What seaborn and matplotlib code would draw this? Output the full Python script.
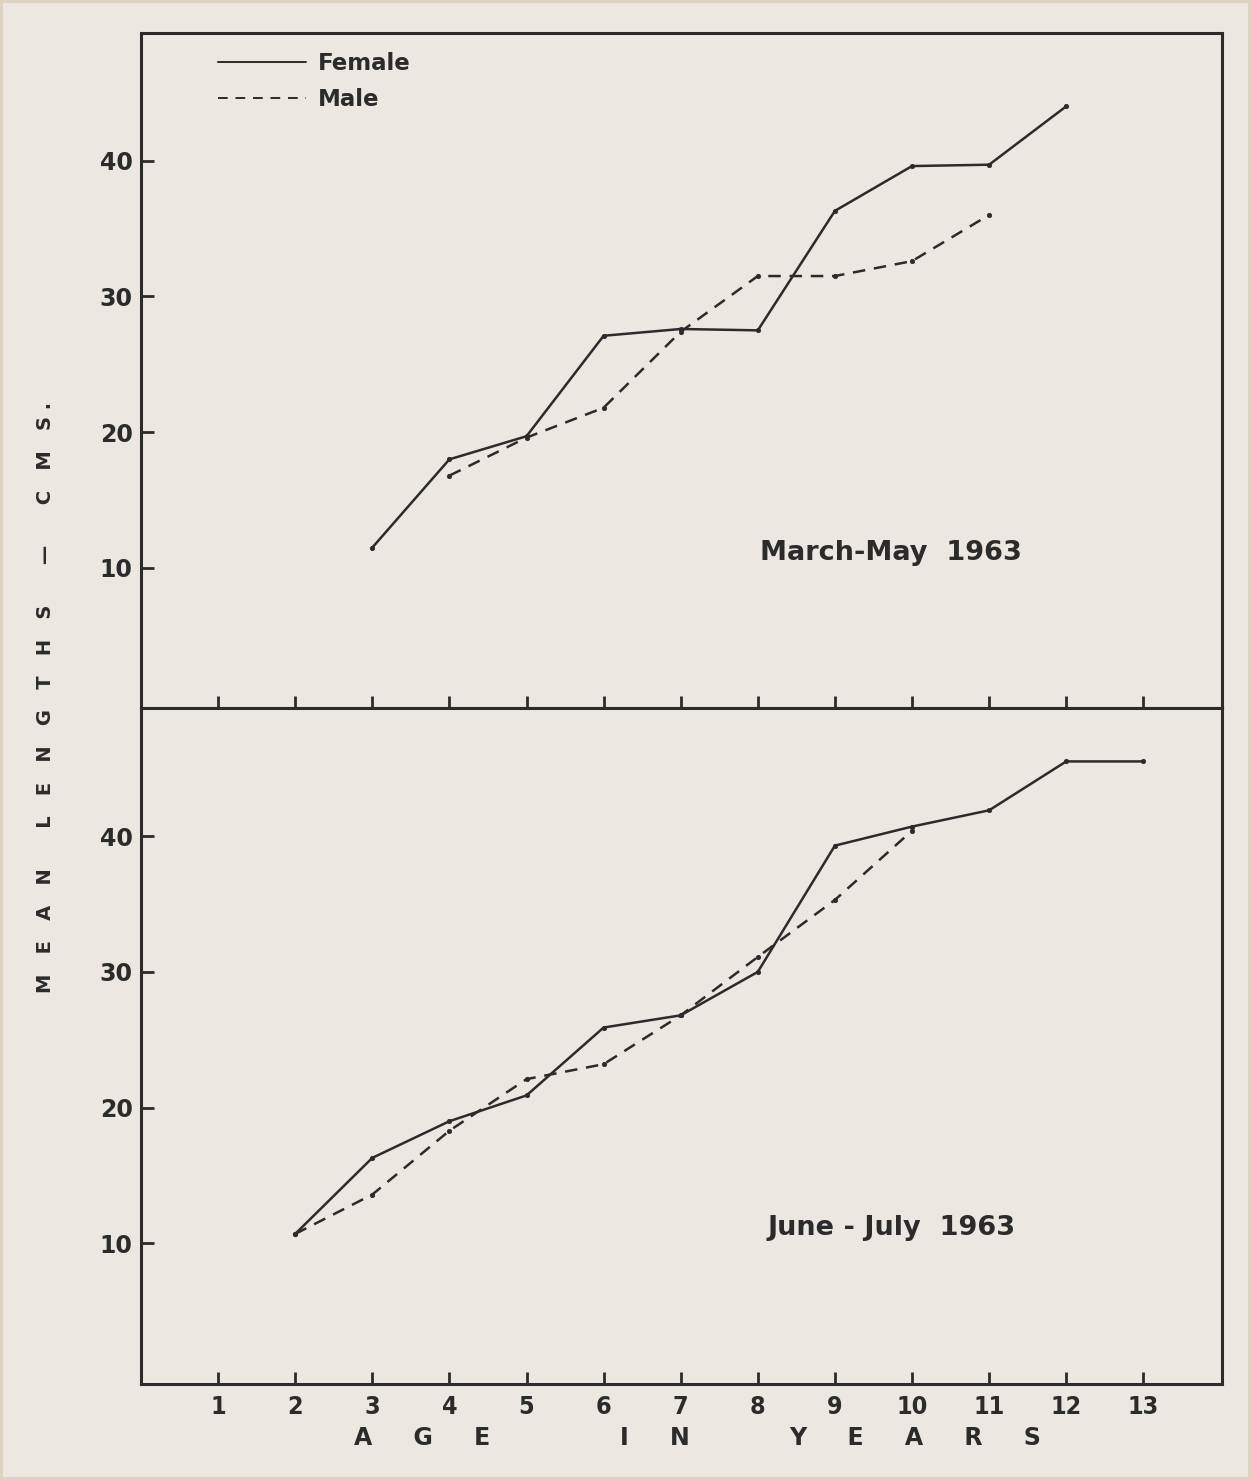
import numpy as np
import pandas as pd
import matplotlib
matplotlib.use("Agg")
import matplotlib.pyplot as plt
from matplotlib.lines import Line2D
import seaborn as sns

# Mean lengths (cm) by age group, two sampling periods
age_ticks = list(range(1, 14))

spring_female_age = [3, 4, 5, 6, 7, 8, 9, 10, 11, 12]
spring_female_len = [11.5, 18.0, 19.7, 27.1, 27.6, 27.5, 36.3, 39.6, 39.7, 44.0]
spring_male_age = [4, 5, 6, 7, 8, 9, 10, 11]
spring_male_len = [16.8, 19.6, 21.8, 27.4, 31.5, 31.5, 32.6, 36.0]

summer_female_age = [2, 3, 4, 5, 6, 7, 8, 9, 10, 11, 12, 13]
summer_female_len = [10.7, 16.3, 19.0, 20.9, 25.9, 26.8, 30.0, 39.3, 40.7, 41.9, 45.5, 45.5]
summer_male_age = [2, 3, 4, 5, 6, 7, 8, 9, 10]
summer_male_len = [10.7, 13.6, 18.3, 22.1, 23.2, 26.8, 31.1, 35.3, 40.4]

y_ticks = [10, 20, 30, 40]
panel_titles = ["March-May  1963", "June - July  1963"]
sex_labels = ["Female", "Male"]

INK = "#2b2b2b"
PAPER = "#ece7e0"


def long_frame(f_age, f_len, m_age, m_len):
    return pd.concat([
        pd.DataFrame({"age": f_age, "length": f_len, "sex": sex_labels[0]}),
        pd.DataFrame({"age": m_age, "length": m_len, "sex": sex_labels[1]}),
    ], ignore_index=True)


frames = [
    long_frame(spring_female_age, spring_female_len, spring_male_age, spring_male_len),
    long_frame(summer_female_age, summer_female_len, summer_male_age, summer_male_len),
]

sns.set_theme(style="white")
plt.rcParams["font.family"] = ["DejaVu Sans"]

fig = plt.figure(figsize=(12.51, 14.8), dpi=100, facecolor=PAPER)
fig.patch.set_edgecolor("#ddd3c0")
fig.patch.set_linewidth(3)
gs = fig.add_gridspec(2, 1, left=0.1127, right=0.9768, top=0.9777, bottom=0.0649, hspace=0)
axes = [fig.add_subplot(gs[0]), fig.add_subplot(gs[1])]

for i, (ax, df) in enumerate(zip(axes, frames)):
    ax.set_facecolor(PAPER)
    sns.lineplot(
        data=df, x="age", y="length", style="sex",
        dashes={"Female": "", "Male": (5, 3.5)},
        markers={"Female": "o", "Male": "o"},
        color=INK, linewidth=1.8, markersize=3.2,
        markeredgecolor=INK, markeredgewidth=0.5,
        legend=False, ax=ax, sort=False,
    )
    ax.set_xlim(0, 14.02)
    ax.set_ylim(-0.35, 49.4)
    ax.set_xticks(age_ticks)
    ax.set_yticks(y_ticks)
    ax.set_xlabel("")
    ax.set_ylabel("")
    for s in ax.spines.values():
        s.set_visible(True)
        s.set_color(INK)
        s.set_linewidth(2.2)
    ax.tick_params(axis="both", direction="in", length=9, width=2, color=INK,
                   bottom=True, left=True, top=False, right=False)
    ax.tick_params(axis="y", pad=6, labelsize=17, labelcolor=INK)
    for lab in ax.get_yticklabels():
        lab.set_fontweight("bold")
    ax.text(9.73, 11.1, panel_titles[i], ha="center", va="center",
            fontsize=19.5, fontweight="bold", color=INK)

axes[0].tick_params(axis="x", labelbottom=False)
axes[1].tick_params(axis="x", pad=8, labelsize=18, labelcolor=INK)
for lab in axes[1].get_xticklabels():
    lab.set_fontweight("bold")
    lab.set_fontstretch("condensed")

# Legend in the upper left of the first panel
handles = [
    Line2D([], [], color=INK, linewidth=1.4),
    Line2D([], [], color=INK, linewidth=1.4, dashes=(5, 4)),
]
leg = axes[0].legend(handles, sex_labels, loc="upper left",
                     bbox_to_anchor=(218 / 1251, 1 - 52 / 1480),
                     bbox_transform=fig.transFigure, frameon=False,
                     borderpad=0, borderaxespad=0, handlelength=3.85,
                     handletextpad=0.5, labelspacing=0.58,
                     prop={"size": 16.5, "weight": "bold"})
for t in leg.get_texts():
    t.set_color(INK)

# Axis titles with wide letter spacing
fig.text(0.036, 0.529, "M   E   A   N      L   E   N   G   T   H   S      \u2014      C   M   S .",
         rotation=90, ha="center", va="center", fontsize=14, fontweight="bold", color=INK)
for word, xc in [("A     G     E", 422), ("I     N", 655), ("Y     E     A     R     S", 915)]:
    fig.text(xc / 1251, 1 - 1438 / 1480, word, ha="center", va="center",
             fontsize=17, fontweight="bold", color=INK)

fig.savefig("out.png", dpi=100, facecolor=PAPER, edgecolor=fig.patch.get_edgecolor())
